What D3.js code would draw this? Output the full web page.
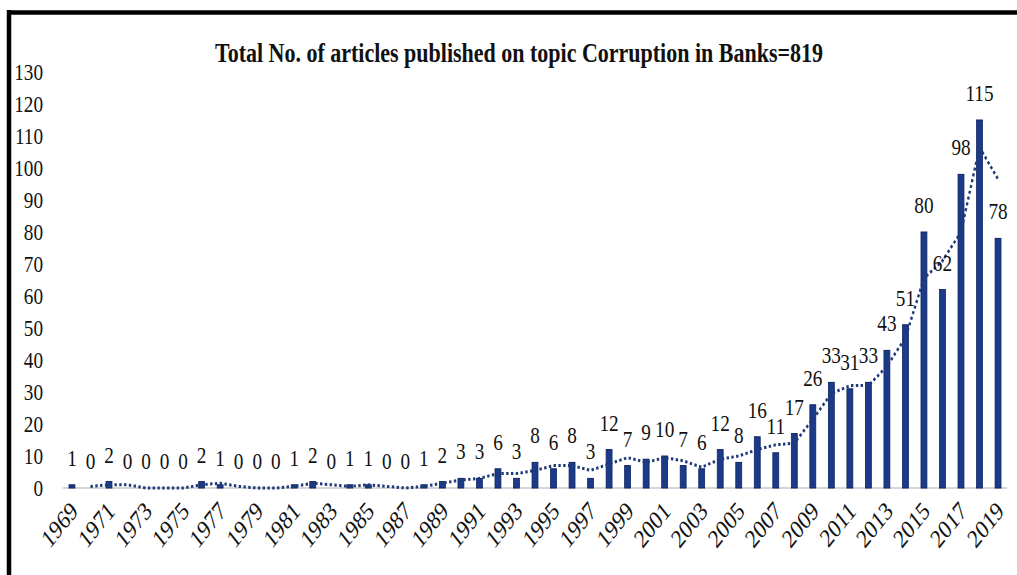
<!DOCTYPE html>
<html>
<head>
<meta charset="utf-8">
<script src="https://cdn.jsdelivr.net/npm/d3@7"></script>
<style>
  html, body { margin: 0; padding: 0; background: #fff; }
  svg { display: block; }
  text { font-family: "Liberation Serif", "Times New Roman", serif; fill: #111; }
</style>
</head>
<body>
<div class="chart"></div>
<script>
// data
var years = d3.range(1969, 2020);
var articles = [1, 0, 2, 0, 0, 0, 0, 2, 1, 0, 0, 0, 1, 2, 0, 1, 1, 0, 0, 1, 2, 3, 3, 6, 3,
    8, 6, 8, 3, 12, 7, 9, 10, 7, 6, 12, 8, 16, 11, 17, 26, 33, 31, 33, 43, 51, 80, 62, 98, 115, 78];
var yTicks = d3.range(0, 140, 10);
var xTickYears = years.filter(function (d) { return d % 2 == 1; });
var title = "Total No. of articles published on topic Corruption in Banks=819";

var width = 1017, height = 575;
// the original picture is squeezed sideways, so draw wider and squeeze it
var sx = 0.8, vw = width / sx;
function px(v) { return v / sx; }

var svg = d3.select(".chart").append("svg")
    .attr("width", width).attr("height", height)
    .attr("viewBox", "0 0 " + vw + " " + height)
    .attr("preserveAspectRatio", "none");

var x = d3.scaleBand()
    .domain(years)
    .range([px(62.7), px(1007.3)])
    .paddingInner(0.68)
    .paddingOuter(0.34);

var y = d3.scaleLinear()
    .domain([0, 130])
    .range([488, 72]);

// frame (left and top)
svg.append("line").attr("x1", px(9)).attr("x2", px(9)).attr("y1", 10).attr("y2", height)
    .attr("stroke", "#000").attr("stroke-width", px(4.5));
svg.append("line").attr("x1", px(7)).attr("x2", vw).attr("y1", 12.5).attr("y2", 12.5)
    .attr("stroke", "#000").attr("stroke-width", 4.5);

svg.append("text")
    .attr("x", px(519)).attr("y", 62)
    .attr("text-anchor", "middle")
    .style("font-size", "27.5px").style("font-weight", "bold")
    .text(title);

// y labels, no axis line
svg.append("g").selectAll("text").data(yTicks).enter().append("text")
    .attr("x", px(43)).attr("y", function (d) { return y(d); })
    .attr("dy", "0.35em")
    .attr("text-anchor", "end")
    .style("font-size", "24px")
    .text(function (d) { return d; });

// baseline
svg.append("line")
    .attr("x1", x.range()[0]).attr("x2", x.range()[1])
    .attr("y1", y(0)).attr("y2", y(0))
    .attr("stroke", "#c8c8c8").attr("stroke-width", 1.5);

svg.append("g").selectAll("rect").data(articles).enter().append("rect")
    .attr("x", function (d, i) { return x(years[i]); })
    .attr("width", x.bandwidth())
    .attr("y", function (d) { return y(d); })
    .attr("height", function (d) { return y(0) - y(d); })
    .attr("fill", "#1c3a8a")
    .attr("stroke", "#10265e").attr("stroke-width", 1);

// 2 period moving average trendline
var ma = articles.map(function (d, i) {
    return i == 0 ? null : (articles[i - 1] + d) / 2;
});
var line = d3.line()
    .defined(function (d) { return d != null; })
    .x(function (d, i) { return x(years[i]) + x.bandwidth() / 2; })
    .y(function (d) { return y(d); });
svg.append("path").datum(ma)
    .attr("d", line)
    .attr("fill", "none")
    .attr("stroke", "#1f3a78")
    .attr("stroke-width", 3)
    .attr("stroke-dasharray", "3,3");

// data labels
svg.append("g").selectAll("text").data(articles).enter().append("text")
    .attr("x", function (d, i) { return x(years[i]) + x.bandwidth() / 2; })
    .attr("y", function (d) { return y(d) - 19; })
    .attr("text-anchor", "middle")
    .style("font-size", "24px")
    .text(function (d) { return d; });

// x labels, rotated
svg.append("g").selectAll("text").data(xTickYears).enter().append("text")
    .attr("transform", function (d) {
        return "translate(" + (x(d) + x.bandwidth() / 2 + px(2)) + "," + 506 + ") rotate(-45)";
    })
    .attr("text-anchor", "end")
    .attr("dy", "0.35em")
    .style("font-size", "26px")
    .text(function (d) { return d; });
</script>
</body>
</html>
